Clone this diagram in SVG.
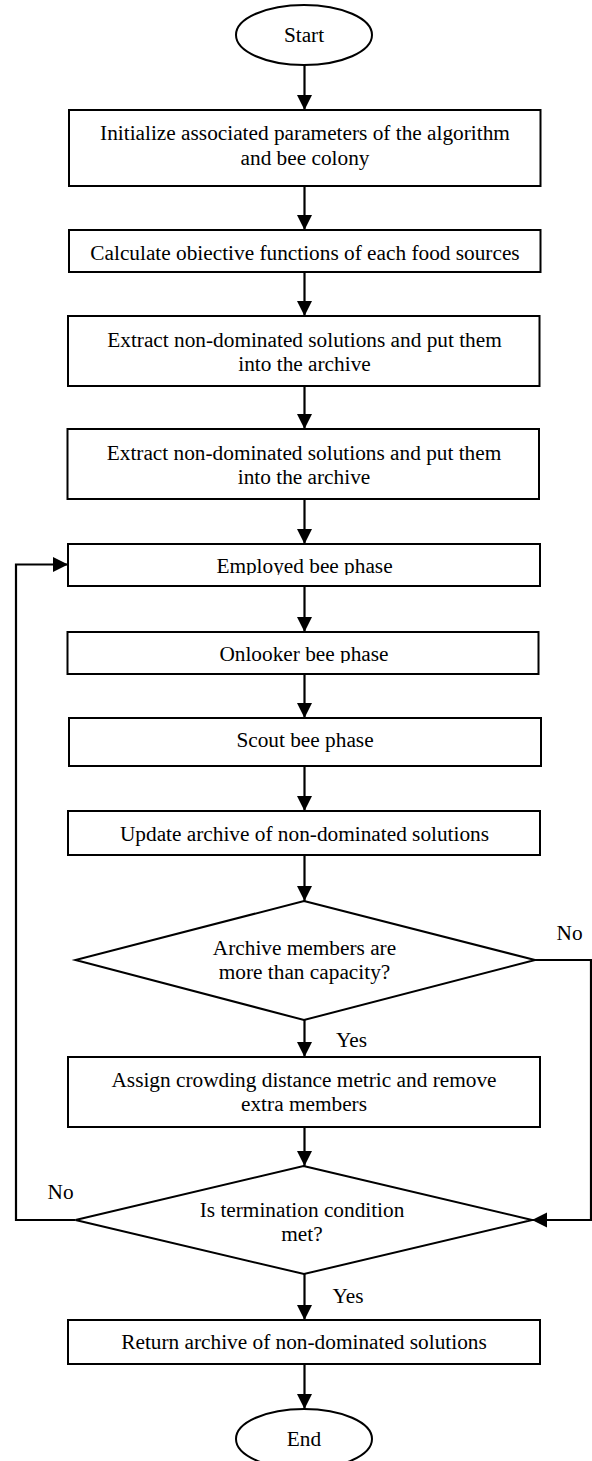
<svg xmlns="http://www.w3.org/2000/svg" width="592" height="1461" viewBox="0 0 592 1461">
<style>
.shape{fill:#fff;stroke:#000;stroke-width:2}
.t{font-family:"Liberation Serif","Times New Roman",serif;font-size:21.3px;fill:#000;text-anchor:middle}
.lbl{font-family:"Liberation Serif","Times New Roman",serif;font-size:21.3px;fill:#000}
.c{fill:none;stroke:#000;stroke-width:2.2}
</style>
<defs>
<marker id="ah" markerUnits="userSpaceOnUse" markerWidth="16" markerHeight="16" viewBox="0 0 16 16" refX="15" refY="7.5" orient="auto">
<path d="M0,0 L15,7.5 L0,15 Z" fill="#000"/>
</marker>
<clipPath id="clipEmp"><rect x="60" y="540" width="490" height="35"/></clipPath>
<clipPath id="clipOnl"><rect x="60" y="628" width="490" height="35"/></clipPath>
</defs>
<rect width="592" height="1461" fill="#fff"/>

<g id="connectors">
<line class="c" x1="304.5" y1="65" x2="304.5" y2="110" marker-end="url(#ah)"/>
<line class="c" x1="304.5" y1="186" x2="304.5" y2="230" marker-end="url(#ah)"/>
<line class="c" x1="304.5" y1="272" x2="304.5" y2="316" marker-end="url(#ah)"/>
<line class="c" x1="304.5" y1="386" x2="304.5" y2="429" marker-end="url(#ah)"/>
<line class="c" x1="304.5" y1="499" x2="304.5" y2="544" marker-end="url(#ah)"/>
<line class="c" x1="304.5" y1="586" x2="304.5" y2="632" marker-end="url(#ah)"/>
<line class="c" x1="304.5" y1="674" x2="304.5" y2="718" marker-end="url(#ah)"/>
<line class="c" x1="304.5" y1="766" x2="304.5" y2="811" marker-end="url(#ah)"/>
<line class="c" x1="304.5" y1="855" x2="304.5" y2="901" marker-end="url(#ah)"/>
<line class="c" x1="304.5" y1="1020" x2="304.5" y2="1057" marker-end="url(#ah)"/>
<line class="c" x1="304.5" y1="1127" x2="304.5" y2="1166" marker-end="url(#ah)"/>
<line class="c" x1="304.5" y1="1274" x2="304.5" y2="1320" marker-end="url(#ah)"/>
<line class="c" x1="304.5" y1="1364" x2="304.5" y2="1409" marker-end="url(#ah)"/>
<polyline class="c" points="535,960 591,960 591,1220 532,1220" marker-end="url(#ah)"/>
<polyline class="c" points="75.5,1220 16,1220 16,564.5 68,564.5" marker-end="url(#ah)"/>
<text class="lbl" x="556.5" y="940">No</text>
<text class="lbl" x="336" y="1047">Yes</text>
<text class="lbl" x="47.5" y="1199">No</text>
<text class="lbl" x="332.5" y="1303">Yes</text>
</g>

<g id="start">
<ellipse class="shape" cx="304" cy="35" rx="68" ry="30"/>
<text class="t" x="304" y="42">Start</text>
</g>

<g id="init">
<rect class="shape" x="69" y="110" width="471.5" height="76"/>
<text class="t" x="305" y="140">Initialize associated parameters of the algorithm</text>
<text class="t" x="305" y="165">and bee colony</text>
</g>

<g id="calc">
<rect class="shape" x="69" y="230" width="471.5" height="42"/>
<text class="t" x="305" y="260">Calculate obiective functions of each food sources</text>
</g>

<g id="extract1">
<rect class="shape" x="68" y="316" width="471.5" height="70"/>
<text class="t" x="304.5" y="347">Extract non-dominated solutions and put them</text>
<text class="t" x="304.5" y="371">into the archive</text>
</g>

<g id="extract2">
<rect class="shape" x="67.5" y="429" width="471.5" height="70"/>
<text class="t" x="304" y="460">Extract non-dominated solutions and put them</text>
<text class="t" x="304" y="484">into the archive</text>
</g>

<g id="employed">
<rect class="shape" x="68" y="544" width="472" height="42"/>
<text class="t" x="304.5" y="573" clip-path="url(#clipEmp)">Employed bee phase</text>
</g>

<g id="onlooker">
<rect class="shape" x="67.5" y="632" width="471" height="42"/>
<text class="t" x="304" y="661" clip-path="url(#clipOnl)">Onlooker bee phase</text>
</g>

<g id="scout">
<rect class="shape" x="69" y="718" width="472" height="48"/>
<text class="t" x="305" y="747">Scout bee phase</text>
</g>

<g id="update">
<rect class="shape" x="68" y="811" width="472" height="44"/>
<text class="t" x="304.5" y="841">Update archive of non-dominated solutions</text>
</g>

<g id="decision-capacity">
<polygon class="shape" points="304,901 535,960 304,1020 75.5,960"/>
<text class="t" x="304.5" y="955">Archive members are</text>
<text class="t" x="304.5" y="979">more than capacity?</text>
</g>

<g id="assign">
<rect class="shape" x="68" y="1057" width="472" height="70"/>
<text class="t" x="304" y="1087">Assign crowding distance metric and remove</text>
<text class="t" x="304" y="1111">extra members</text>
</g>

<g id="decision-termination">
<polygon class="shape" points="303.5,1166 532,1220 304,1274 75.5,1220"/>
<text class="t" x="302" y="1217">Is termination condition</text>
<text class="t" x="302" y="1241">met?</text>
</g>

<g id="return">
<rect class="shape" x="68" y="1320" width="472" height="44"/>
<text class="t" x="304" y="1349">Return archive of non-dominated solutions</text>
</g>

<g id="end">
<ellipse class="shape" cx="304" cy="1439" rx="68" ry="30"/>
<text class="t" x="304" y="1446">End</text>
</g>
</svg>
